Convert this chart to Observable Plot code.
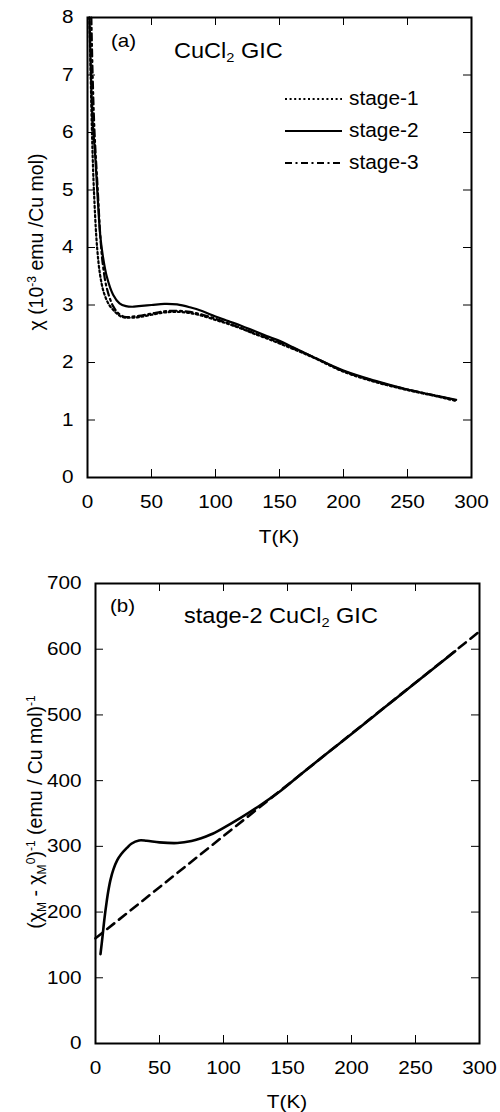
<!DOCTYPE html>
<html><head><meta charset="utf-8">
<script src="https://cdn.jsdelivr.net/npm/d3@7"></script>
<script src="https://cdn.jsdelivr.net/npm/@observablehq/plot@0.6"></script>
<style>
html,body{margin:0;padding:0;background:#fff;}
#wrap{position:relative;width:500px;height:1112px;overflow:hidden;font-family:"Liberation Sans",Arial,Helvetica,sans-serif;color:#000;}
#wrap svg{position:absolute;left:0;display:block;}
.ov{position:absolute;white-space:nowrap;line-height:1;transform-origin:0 0;}
.rot{position:absolute;white-space:nowrap;line-height:1;transform:translate(-50%,-50%) rotate(-90deg);}
.ctr{position:absolute;white-space:nowrap;line-height:1;transform:translate(-50%,-50%) scaleX(1.12);}
sub,sup{font-size:0.62em;line-height:0;position:relative;vertical-align:baseline;}
sub{top:0.32em} sup{top:-0.55em}
</style></head><body><div id="wrap"></div>
<script>
// ---------- data ----------
const stages = ["stage-1", "stage-2", "stage-3"];
const xTicks = [0, 50, 100, 150, 200, 250, 300];
const yTicksA = [0, 1, 2, 3, 4, 5, 6, 7, 8];
const yTicksB = [0, 100, 200, 300, 400, 500, 600, 700];

// panel (a): chi (10^-3 emu / Cu mol) vs T (K)
const T_s1   = [1.5, 2.5, 3.5, 5, 7.5, 10, 13, 17, 22, 26, 30, 35, 40, 50, 60, 70, 80, 90, 100, 110, 120, 130, 140, 150, 175, 200, 225, 250, 275, 288];
const chi_s1 = [8.0, 7.0, 6.0, 5.0, 4.0, 3.5, 3.2, 3.0, 2.87, 2.8, 2.78, 2.78, 2.79, 2.83, 2.87, 2.88, 2.86, 2.81, 2.74, 2.67, 2.59, 2.5, 2.42, 2.33, 2.1, 1.84, 1.66, 1.52, 1.4, 1.33];
const T_s2   = [1.5, 2, 3, 4, 6, 8, 10, 12, 15, 20, 25, 30, 35, 40, 50, 60, 70, 80, 90, 100, 110, 120, 130, 140, 150, 160, 175, 200, 225, 250, 275, 288];
const chi_s2 = [8.0, 7.6, 6.8, 6.2, 5.6, 4.85, 4.2, 3.85, 3.5, 3.18, 3.03, 2.98, 2.97, 2.98, 3.0, 3.02, 3.01, 2.96, 2.89, 2.8, 2.72, 2.64, 2.55, 2.46, 2.38, 2.27, 2.11, 1.86, 1.68, 1.53, 1.41, 1.35];
const T_s3   = [3, 4, 5.5, 8, 10, 12, 15, 20, 25, 30, 35, 40, 50, 60, 70, 80, 90, 100, 110, 120, 130, 140, 150, 175, 200, 225, 250, 275, 288];
const chi_s3 = [8.0, 7.0, 6.0, 5.0, 4.2, 3.7, 3.3, 2.98, 2.84, 2.79, 2.8, 2.81, 2.85, 2.89, 2.9, 2.88, 2.83, 2.76, 2.68, 2.6, 2.51, 2.43, 2.35, 2.11, 1.85, 1.67, 1.53, 1.41, 1.34];

// panel (b): (chi_M - chi_M0)^-1 (emu / Cu mol)^-1 vs T (K), stage-2
const T_b   = [3.9, 5.5, 7, 8.6, 10, 11.7, 14, 17, 20, 24.7, 28, 34, 40, 50, 64, 75, 82, 90, 98, 113, 129, 145, 160, 176, 200, 225, 250, 281];
const inv_b = [136, 163, 190, 214, 232, 249, 265, 279, 288, 298, 304, 309, 308.5, 306, 305, 308, 312, 318, 326, 343, 363, 385, 409, 434, 471, 510, 549, 597];
// Curie-Weiss fit (dashed)
const T_fit   = [0, 300];
const inv_fit = [160, 627];

// ---------- tables ----------
const zip = (xs, ys, k) => xs.map((x, i) => ({T: x, [k]: ys[i]}));
const dA = [zip(T_s1, chi_s1, "chi"), zip(T_s2, chi_s2, "chi"), zip(T_s3, chi_s3, "chi")];
const dB = zip(T_b, inv_b, "v");
const dFit = zip(T_fit, inv_fit, "v");
const dashes = ["2,2.6", null, "7,3.5,2,3.5"];

const wrap = document.getElementById("wrap");
const FONT = "'Liberation Sans', Arial, Helvetica, sans-serif";

function stretchTicks(svg) {
  d3.select(svg).selectAll("g[aria-label*='axis'] text").each(function () {
    const t = this.getAttribute("transform");
    if (t) this.setAttribute("transform", t + " scale(1.12,1)");
    else {
      const x = +this.getAttribute("x") || 0;
      this.setAttribute("transform", `translate(${x},0) scale(1.12,1) translate(${-x},0)`);
    }
  });
}

function frameTicks(xt, yt, fw, fh, len) {
  return [
    Plot.tickY(yt, {y: d => d, insetRight: fw - len, stroke: "black", strokeWidth: 1}),
    Plot.tickY(yt, {y: d => d, insetLeft: fw - len, stroke: "black", strokeWidth: 1}),
    Plot.tickX(xt, {x: d => d, insetBottom: fh - len, stroke: "black", strokeWidth: 1}),
    Plot.tickX(xt, {x: d => d, insetTop: fh - len, stroke: "black", strokeWidth: 1})
  ];
}

// ---------- panel (a) ----------
const svgA = Plot.plot({
  width: 500, height: 556,
  marginTop: 17, marginBottom: 79, marginLeft: 87, marginRight: 29,
  style: {fontFamily: FONT, fontSize: "18.5px", color: "black", background: "white", overflow: "visible"},
  x: {domain: [0, 300], ticks: xTicks, tickSize: 0, tickPadding: 17, label: null},
  y: {domain: [0, 8], ticks: yTicksA, tickSize: 0, tickPadding: 14, label: null},
  marks: [
    ...frameTicks(xTicks, yTicksA, 384, 460, 8),
    ...dA.map((d, i) => Plot.line(d, {x: "T", y: "chi", curve: "catmull-rom", stroke: "black",
      strokeWidth: 2.2, strokeDasharray: dashes[i]})),
    Plot.frame({stroke: "black", strokeWidth: 2})
  ]
});
svgA.style.top = "0px";
stretchTicks(svgA);
wrap.appendChild(svgA);

// ---------- panel (b) ----------
const svgB = Plot.plot({
  width: 500, height: 556,
  marginTop: 27, marginBottom: 69, marginLeft: 95, marginRight: 21,
  style: {fontFamily: FONT, fontSize: "18.5px", color: "black", background: "white", overflow: "visible"},
  x: {domain: [0, 300], ticks: xTicks, tickSize: 0, tickPadding: 17, label: null},
  y: {domain: [0, 700], ticks: yTicksB, tickSize: 0, tickPadding: 14, label: null},
  marks: [
    ...frameTicks(xTicks, yTicksB, 384, 460, 8),
    Plot.line(dFit, {x: "T", y: "v", stroke: "black", strokeWidth: 2.6, strokeDasharray: "9,6"}),
    Plot.line(dB, {x: "T", y: "v", curve: "catmull-rom", stroke: "black", strokeWidth: 2.6}),
    Plot.frame({stroke: "black", strokeWidth: 2})
  ]
});
svgB.style.top = "556px";
stretchTicks(svgB);
wrap.appendChild(svgB);

// ---------- text overlays ----------
function ov(html, cls, style) {
  const d = document.createElement("div");
  d.className = cls;
  d.innerHTML = html;
  Object.assign(d.style, style);
  wrap.appendChild(d);
  return d;
}
ov("(a)", "ov", {left: "111px", top: "31px", fontSize: "19px", transform: "scaleX(1.08)"});
ov("CuCl<sub>2</sub> GIC", "ov", {left: "174px", top: "40px", fontSize: "22px", transform: "scaleX(1.07)"});
ov("(b)", "ov", {left: "110px", top: "596px", fontSize: "19px", transform: "scaleX(1.08)"});
ov("stage-2 CuCl<sub>2</sub> GIC", "ov", {left: "184px", top: "605px", fontSize: "22px", transform: "scaleX(1.07)"});

ov("T(K)", "ctr", {left: "279px", top: "537px", fontSize: "18.5px"});
ov("T(K)", "ctr", {left: "287px", top: "1102px", fontSize: "18.5px"});

ov("χ (10<sup>-3</sup> emu /Cu mol)", "rot", {left: "37px", top: "242px", fontSize: "19.5px"});
ov("(χ<sub>M</sub> - χ<sub>M</sub><sup>0</sup>)<sup>-1</sup> (emu / Cu mol)<sup>-1</sup>", "rot", {left: "36px", top: "812px", fontSize: "19.5px"});

// ---------- legend (panel a) ----------
const leg = d3.select(wrap).append("svg")
  .attr("width", 140).attr("height", 100)
  .style("left", "285px").style("top", "85px").style("position", "absolute")
  .style("font-family", FONT).style("font-size", "19.5px");
stages.forEach((s, i) => {
  const y = 14 + i * 32;
  leg.append("line").attr("x1", 0).attr("x2", 57).attr("y1", y).attr("y2", y)
    .attr("stroke", "black").attr("stroke-width", 2)
    .attr("stroke-dasharray", dashes[i]);
  leg.append("text").attr("x", 64).attr("y", y + 6.5).attr("fill", "black")
    .attr("transform", `translate(64,0) scale(1.07,1) translate(-64,0)`).text(s);
});
</script></body></html>
